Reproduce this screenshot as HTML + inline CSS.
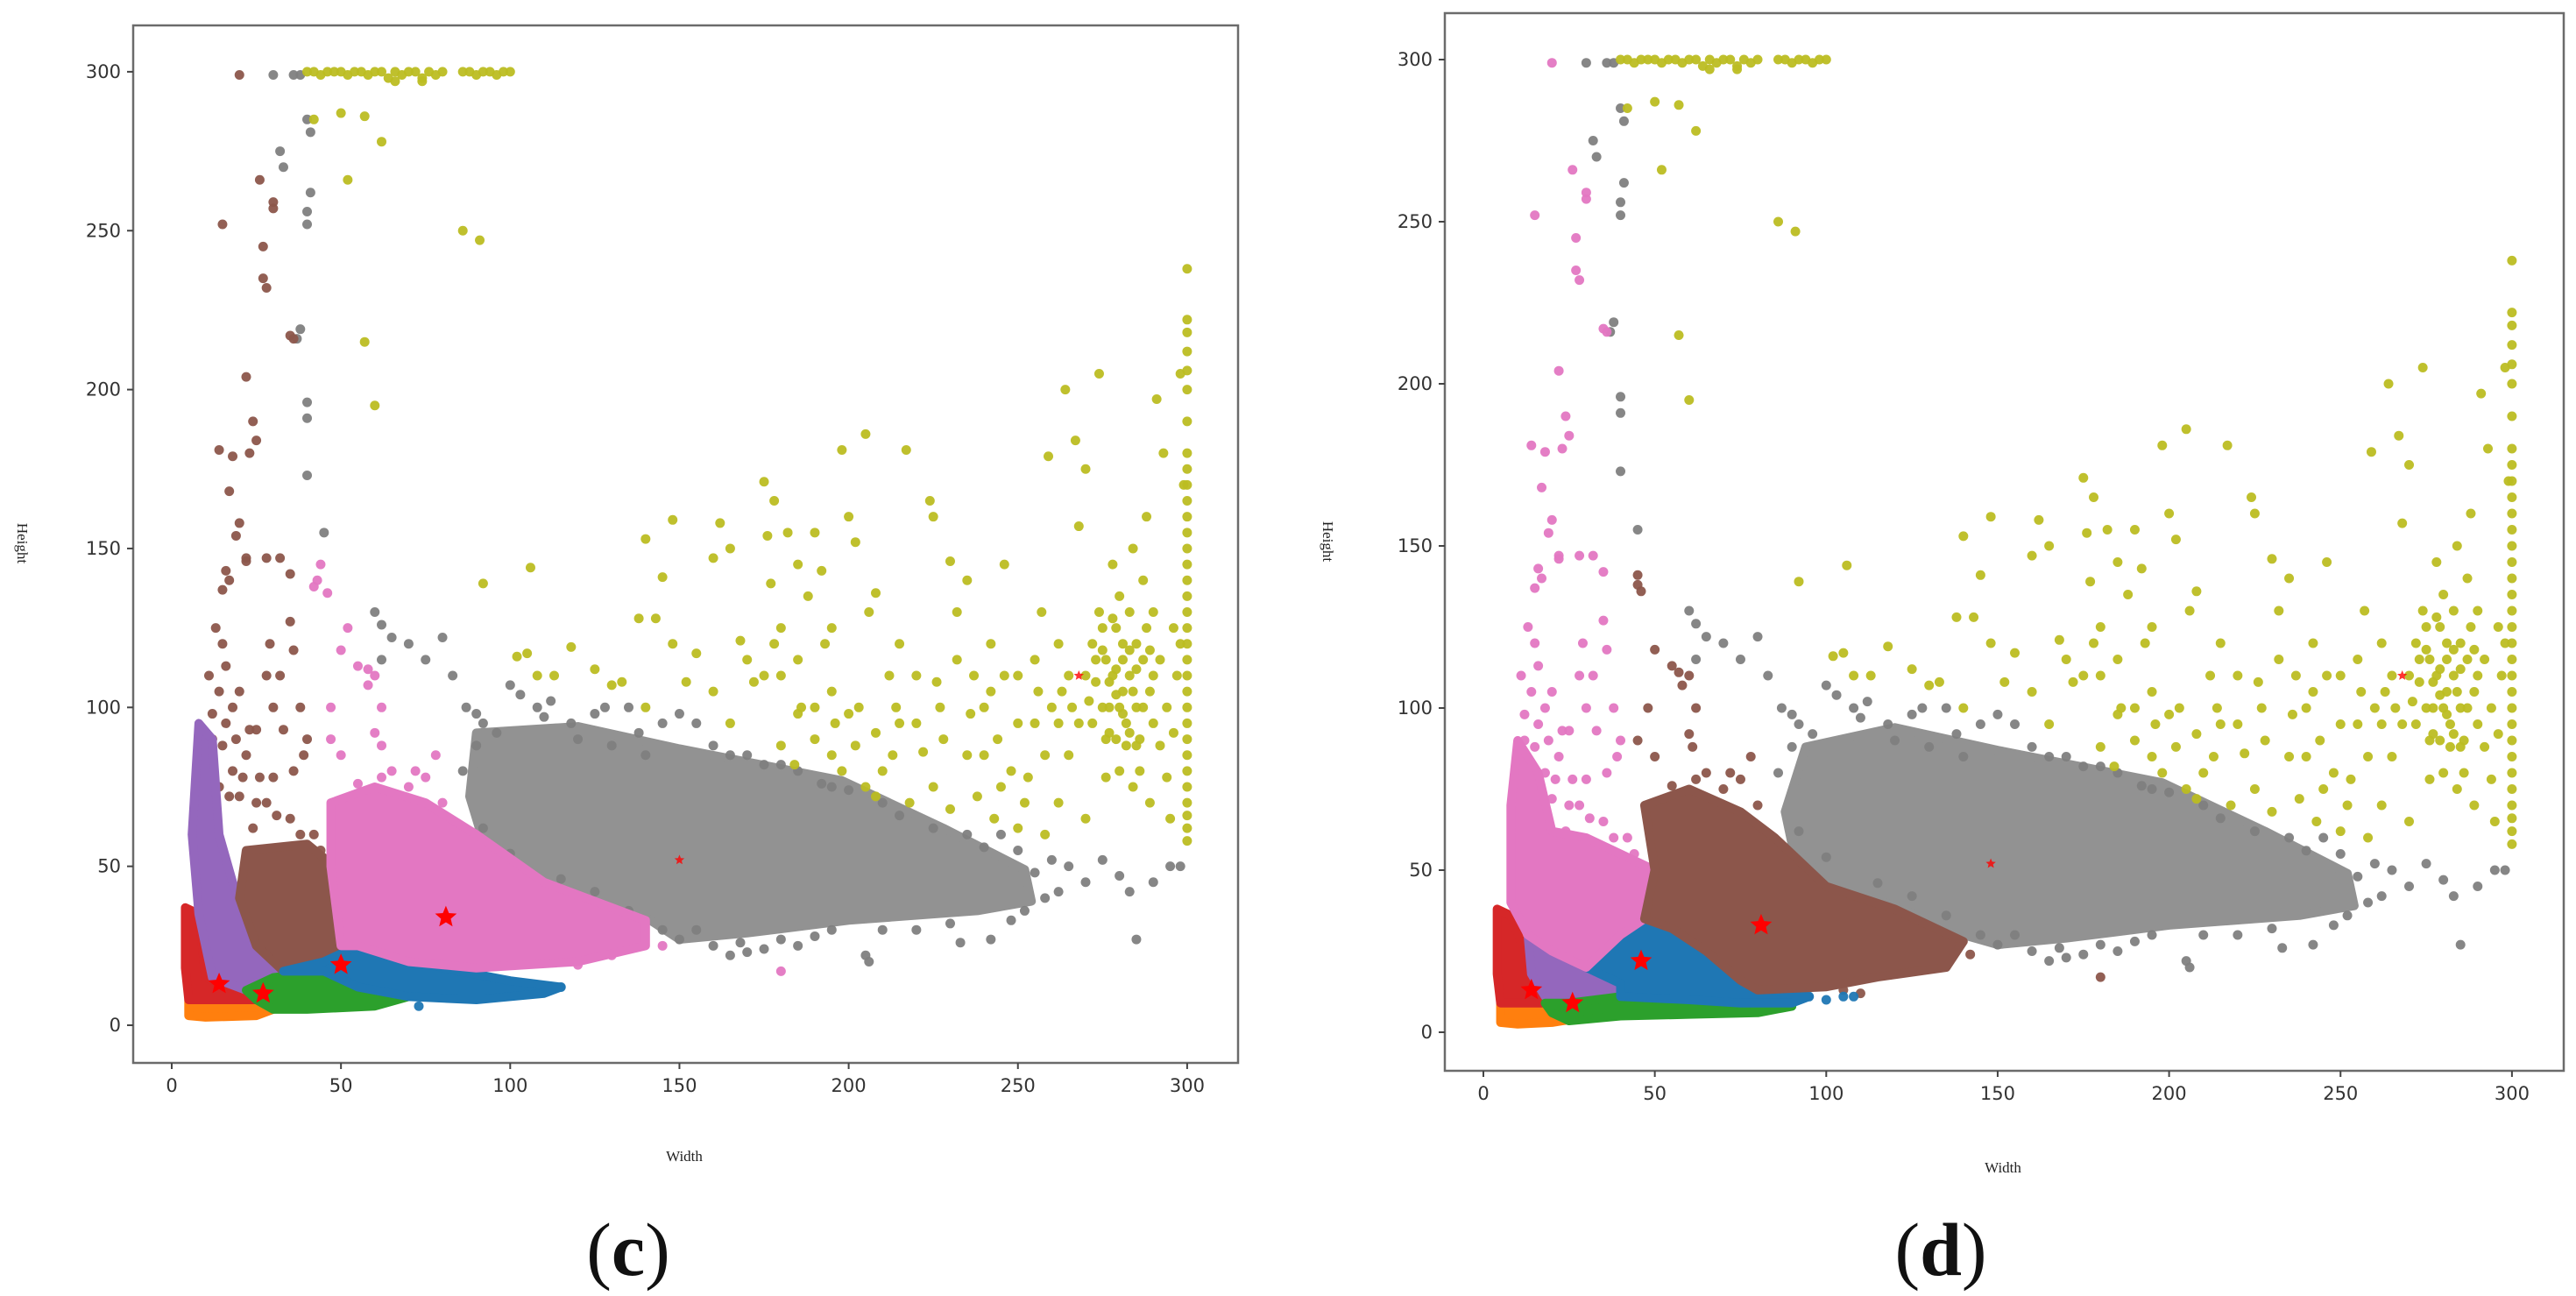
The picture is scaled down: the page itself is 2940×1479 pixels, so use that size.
<!DOCTYPE html>
<html><head><meta charset="utf-8"><style>
html,body{margin:0;padding:0;background:#fff;width:2940px;height:1479px;overflow:hidden}
svg{display:block}
.tk{font-family:"DejaVu Sans","Liberation Sans",sans-serif;font-size:21px;fill:#333}
.ax{font-family:"Liberation Serif",serif;font-size:17px;fill:#222}
.cap{font-family:"Liberation Serif",serif;font-size:86px;fill:#111}
</style></head><body>
<svg id="fig" width="2940" height="1479" viewBox="0 0 2940 1479"></svg>
<script>
const xTicks=[0,50,100,150,200,250,300];
const yTicks=[0,50,100,150,200,250,300];
const colors={blue:"#1f77b4",orange:"#ff7f0e",green:"#2ca02c",red:"#d62728",purple:"#9467bd",brown:"#8c564b",pink:"#e377c2",gray:"#7f7f7f",olive:"#bcbd22"};
const oliveRow=[[40,300],[42,300],[44,299],[46,300],[48,300],[50,300],[52,299],[54,300],[56,300],[58,299],[60,300],[62,300],[64,298],[66,300],[68,299],[70,300],[72,300],[74,298],[76,300],[78,299],[80,300],[86,300],[88,300],[90,299],[92,300],[94,300],[96,299],[98,300],[100,300],[66,297],[74,297]];
const oliveCol=[[300,58],[300,62],[300,66],[300,70],[300,75],[300,80],[300,85],[300,90],[300,95],[300,100],[300,105],[300,110],[300,115],[300,120],[300,125],[300,130],[300,135],[300,140],[300,145],[300,150],[300,155],[300,160],[300,165],[300,170],[300,175],[300,180],[300,190],[300,200],[300,206],[300,212],[300,218],[300,222],[300,238]];
const oliveScatter=[[42,285],[50,287],[57,286],[62,278],[52,266],[86,250],[91,247],[57,215],[60,195],[92,139],[106,144],[102,116],[105,117],[108,110],[113,110],[118,119],[125,112],[130,107],[133,108],[140,153],[143,128],[145,141],[148,120],[148,159],[155,117],[160,147],[162,158],[165,150],[168,121],[170,115],[172,108],[175,171],[176,154],[177,139],[178,165],[180,125],[180,110],[182,155],[185,145],[186,100],[188,135],[190,155],[192,143],[193,120],[195,105],[196,95],[198,181],[200,160],[202,152],[203,100],[205,186],[206,130],[208,136],[210,80],[212,110],[215,120],[217,181],[220,95],[222,86],[224,165],[225,160],[227,100],[230,146],[232,130],[235,140],[237,110],[240,100],[242,120],[244,90],[246,145],[248,80],[250,110],[252,70],[255,95],[257,130],[259,179],[260,100],[262,120],[264,200],[265,85],[267,184],[268,157],[270,175],[272,120],[274,205],[275,100],[276,90],[278,110],[279,125],[280,100],[281,115],[282,95],[283,130],[284,105],[285,120],[286,80],[287,140],[288,160],[289,70],[290,95],[291,197],[293,180],[295,65],[296,125],[297,110],[298,205],[299,170],[270,110],[272,95],[274,130],[276,115],[277,100],[279,90],[281,120],[283,110],[285,100],[287,115],[289,105],[273,108],[278,128],[282,88],[276,78],[284,75],[265,110],[268,95],[263,105],[258,85],[255,115],[205,75],[208,72],[213,85],[218,70],[225,75],[230,68],[235,85],[238,72],[243,65],[250,62],[253,78],[258,60],[165,95],[175,110],[180,88],[185,98],[190,100],[195,85],[280,135],[278,145],[284,150],[290,130],[292,115],[294,100],[286,90],[280,80],[270,65],[262,70],[245,75],[240,85],[228,90],[215,95],[200,98],[195,125],[185,115],[178,120],[160,105],[152,108],[140,100],[138,128],[275,118],[277,108],[279,112],[281,105],[283,118],[285,112],[287,100],[289,118],[271,102],[273,115],[275,125],[277,92],[279,104],[281,98],[283,92],[285,88],[288,125],[290,110],[292,88],[294,78],[296,92],[298,120],[266,100],[262,95],[256,105],[250,95],[246,110],[242,105],[236,98],[232,115],[226,108],[220,110],[214,100],[208,92],[202,88],[198,80],[190,90],[184,82]];
const grayScatter=[[30,299],[36,299],[38,299],[40,285],[41,281],[32,275],[33,270],[41,262],[40,256],[40,252],[38,219],[37,216],[40,196],[40,191],[40,173],[45,155],[60,130],[62,126],[65,122],[62,115],[70,120],[75,115],[80,122],[83,110],[87,100],[90,98],[100,107],[103,104],[108,100],[112,102],[118,95],[125,98],[135,100],[138,92],[145,95],[150,98],[155,95],[160,88],[170,85],[180,82],[205,22],[206,20],[233,26],[242,27],[285,27],[260,52],[265,50],[270,45],[275,52],[280,47],[283,42],[290,45],[295,50],[298,50],[250,55],[245,60],[235,60],[210,70],[195,75],[160,25],[165,22],[170,23],[175,24],[150,27],[155,30],[130,88],[140,85],[120,90],[96,92],[92,95],[258,40],[262,42],[252,36],[220,30],[190,28],[185,25],[165,85],[175,82],[185,80],[192,76],[200,74],[215,66],[225,62],[240,56],[255,48],[248,33],[230,32],[210,30],[195,30],[180,27],[168,26],[145,30],[135,36],[125,42],[115,46],[100,54],[92,62],[86,80],[90,88],[110,97],[128,100]];
const grayHullC=[[90,92],[120,94],[150,87],[198,77],[228,62],[252,49],[254,39],[238,36],[200,33],[170,29],[150,27],[140,34],[110,46],[92,58],[88,72]];
const grayHullD=[[88,68],[94,88],[120,94],[150,87],[198,77],[228,62],[252,49],[254,39],[238,36],[200,33],[170,29],[150,27],[140,30],[120,39],[100,46],[90,58]];
const leftColumnPts=[[20,299],[26,266],[30,259],[30,257],[27,245],[27,235],[28,232],[15,252],[35,217],[36,216],[22,204],[24,190],[25,184],[23,180],[14,181],[18,179],[17,168],[20,158],[19,154],[22,147],[22,146],[28,147],[32,147],[35,142],[16,143],[17,140],[15,137],[13,125],[15,120],[16,113],[11,110],[14,105],[18,100],[20,105],[23,93],[25,93],[28,110],[29,120],[32,110],[30,100],[33,93],[36,118],[35,127],[38,100],[40,90],[39,85],[36,80],[30,78],[28,70],[24,62],[20,72],[18,80],[15,88],[12,90],[14,75],[22,85],[26,78],[35,65],[38,60],[44,55],[42,60],[12,98],[16,95],[19,90],[21,78],[17,72],[25,70],[31,66]];
const midOutC=[[42,138],[43,140],[44,145],[46,136],[50,118],[52,125],[55,113],[58,112],[60,110],[62,100],[58,107],[47,90],[50,85],[47,100],[60,92],[62,88],[65,80],[72,80],[75,78],[78,85],[80,70],[70,75],[55,76],[62,78],[180,17],[120,19],[130,22],[145,25]];
const midOutD=[[45,141],[45,138],[46,136],[50,118],[55,113],[57,111],[60,110],[62,100],[58,107],[45,90],[50,85],[48,100],[60,92],[61,88],[65,80],[72,80],[75,78],[78,85],[80,70],[70,75],[55,76],[62,78],[180,17],[118,18],[128,20],[142,24],[105,13],[110,12]];
const blueTailC=[[90,13],[95,14],[100,12],[105,13],[110,12],[115,12],[73,6]];
const blueTailD=[[92,11],[95,11],[100,10],[105,11],[108,11]];
const hullsC={orange:[[5,8],[20,8],[30,5],[25,3],[10,2.5],[5,3]],red:[[4,37],[8,35],[10,15],[20,11],[25,8],[20,8],[5,8],[4,18]],purple:[[8,95],[12,90],[14,60],[18,45],[25,25],[33,17],[28,12],[22,11],[12,15],[8,35],[6,60]],green:[[22,11],[30,15],[45,17],[55,12],[70,9],[60,6],[40,5],[30,5],[25,8]],brown:[[22,55],[40,57],[48,50],[50,25],[45,20],[33,17],[25,25],[20,40]],blue:[[33,17],[45,20],[55,25],[65,24],[80,18],[100,14],[115,12],[110,10],[90,8],[70,9],[55,12],[45,17]],pink:[[47,70],[60,75],[75,70],[90,60],[110,45],[140,33],[140,25],[120,20],[90,18],[70,20],[55,25],[50,25],[47,50]]};
const hullsD={orange:[[5,9],[18,9],[26,4],[20,3],[10,2.5],[5,3]],red:[[4,38],[8,36],[12,25],[15,15],[20,12],[18,9],[5,9],[4,18]],purple:[[13,30],[20,25],[30,20],[40,15],[38,11],[25,9],[18,11],[14,18]],green:[[18,9],[25,9],[40,11],[60,10],[75,9],[90,8],[80,6],[60,5.5],[40,5],[25,3.5],[20,6]],blue:[[30,20],[40,30],[47,36],[55,32],[65,25],[75,16],[88,12],[95,11],[90,9],[75,9],[60,10],[40,11],[40,15]],pink:[[10,90],[16,80],[20,62],[30,60],[40,55],[50,50],[47,35],[40,30],[30,20],[20,25],[13,30],[8,40],[8,70]],brown:[[47,70],[60,75],[75,68],[85,60],[100,45],[120,38],[140,28],[135,20],[115,17],[100,14],[80,13],[75,16],[65,25],[55,32],[47,35],[50,50]]};
const starsC=[[14,13],[27,10],[50,19],[81,34]];
const starsSmallC=[[150,52],[268,110]];
const starsD=[[14,13],[26,9],[46,22],[81,33]];
const starsSmallD=[[148,52],[268,110]];

const NS="http://www.w3.org/2000/svg";
const fig=document.getElementById('fig');
function el(tag,attrs,parent){const e=document.createElementNS(NS,tag);for(const k in attrs)e.setAttribute(k,attrs[k]);(parent||fig).appendChild(e);return e;}

function panel(P){
  const g=el('g',{});
  
  
  const X=v=>P.x0+v*P.sx, Y=v=>P.y0-v*P.sy;
  const clip=el('clipPath',{id:'clip'+P.id},g);
  el('rect',{x:P.L,y:P.T,width:P.R-P.L,height:P.B-P.T},clip);
  const plot=el('g',{'clip-path':'url(#clip'+P.id+')'},g);
  function hull(name,pts,op){
    const p=el('polygon',{points:pts.map(q=>X(q[0])+','+Y(q[1])).join(' '),fill:colors[name],stroke:colors[name],'stroke-width':10,'stroke-linejoin':'round',opacity:op||1},plot);
    
    
  }
  function dots(name,pts,op){
    pts.forEach(q=>{
      const c=el('circle',{cx:X(q[0]),cy:Y(q[1]),r:5.5,fill:colors[name],'fill-opacity':op||0.95},plot);
      
      
    });
  }
  hull('gray',P.grayHull,0.85);
  dots('gray',grayScatter);
  dots('olive',oliveScatter);
  dots('olive',oliveRow);
  dots('olive',oliveCol);
  dots(P.leftName,leftColumnPts);
  dots(P.midName,P.midOut);
  dots('blue',P.blueTail);
  for(const k in P.hulls) hull(k,P.hulls[k]);
  function star(cx,cy,r){
    let d='';for(let i=0;i<10;i++){const a=-Math.PI/2+i*Math.PI/5;const rr=i%2?r*0.45:r;d+=(i?'L':'M')+(cx+rr*Math.cos(a))+','+(cy+rr*Math.sin(a));}
    return d+'Z';
  }
  P.stars.forEach(s=>{const p=el('path',{d:star(X(s[0]),Y(s[1]),13),fill:'#ff0000'},plot);
    
    });
  P.starsSmall.forEach(s=>{const p=el('path',{d:star(X(s[0]),Y(s[1]),6),fill:'#ff0000','fill-opacity':0.8},plot);
    
    });
  const fr=el('rect',{x:P.L,y:P.T,width:P.R-P.L,height:P.B-P.T,fill:'none',stroke:'#6b6b6b','stroke-width':2.5},g);
  
  
  xTicks.forEach(t=>{
    el('line',{x1:X(t),x2:X(t),y1:P.B,y2:P.B+7,stroke:'#444','stroke-width':2},g);
    const tx=el('text',{x:X(t),y:P.B+33,'text-anchor':'middle',class:'tk'},g);tx.textContent=t;
    
    
  });
  yTicks.forEach(t=>{
    el('line',{x1:P.L-7,x2:P.L,y1:Y(t),y2:Y(t),stroke:'#444','stroke-width':2},g);
    const tx=el('text',{x:P.L-14,y:Y(t)+7,'text-anchor':'end',class:'tk'},g);tx.textContent=t;
    
    
  });
  const yt=el('text',{x:0,y:0,'text-anchor':'middle',class:'ax',transform:'translate('+P.ytX+','+P.ytY+') rotate(90)'},g);yt.textContent='Height';
  
  
  const xt=el('text',{x:P.xtX,y:P.xtY,'text-anchor':'middle',class:'ax'},g);xt.textContent='Width';
  
  
  const cp=el('text',{x:P.capX,y:1455,'text-anchor':'middle',class:'cap'},g);
  cp.innerHTML='(<tspan font-weight="bold">'+P.id+'</tspan>)';
  
  
}
panel({id:'c',L:152,R:1413,T:29,B:1213,x0:196,sx:3.863,y0:1170,sy:3.627,grayHull:grayHullC,hulls:hullsC,leftName:'brown',midName:'pink',midOut:midOutC,blueTail:blueTailC,stars:starsC,starsSmall:starsSmallC,ytX:20,ytY:620,xtX:781,xtY:1325,capX:717});
panel({id:'d',L:1649,R:2926,T:15,B:1222,x0:1693,sx:3.913,y0:1178,sy:3.70,grayHull:grayHullD,hulls:hullsD,leftName:'pink',midName:'brown',midOut:midOutD,blueTail:blueTailD,stars:starsD,starsSmall:starsSmallD,ytX:1510,ytY:618,xtX:2286,xtY:1338,capX:2215});
</script>
</body></html>
